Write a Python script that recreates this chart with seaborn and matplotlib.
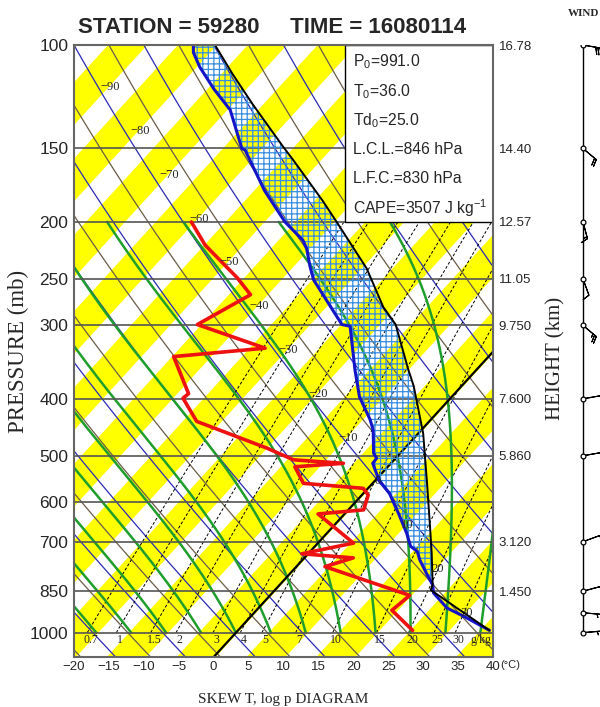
import numpy as np
import pandas as pd
import matplotlib
matplotlib.use('Agg')
import matplotlib.pyplot as plt
import seaborn as sns
from matplotlib.patches import Rectangle

# sounding values (pressure hPa, temperature C)
temp_p = [991, 938, 908, 856, 829, 797, 752, 727, 713, 677, 626, 610, 579, 549,
          515, 505, 495, 452, 434, 397, 357, 301, 299, 251, 238, 222, 215, 200,
          177, 151, 150, 129, 119, 109, 103, 100]
temp_t = [36.0, 30.5, 27.0, 23.1, 21.9, 19.8, 16.8, 15.3, 13.7, 11.4, 7.6, 6.3,
          3.7, 0.4, -2.6, -2.7, -3.8, -6.9, -8.7, -13.2, -17.4, -23.8, -25.2,
          -35.1, -37.4, -40.2, -41.8, -46.8, -53.8, -61.9, -62.6, -69.3, -74.3,
          -79.3, -82.1, -83.1]

dew_p = [991, 916, 864, 772, 746, 734, 704, 628, 618, 583, 568, 557, 522, 515,
         508, 485, 437, 399, 392, 339, 328, 299, 266, 249, 219, 200]
dew_t = [25.0, 19.4, 20.0, 4.1, 7.0, -0.9, 5.1, -3.8, 2.2, 0.9, -0.7, -9.9,
         -13.3, -6.8, -14.4, -19.8, -33.3, -38.3, -38.1, -45.1, -33.1, -45.9,
         -42.2, -46.3, -55.2, -60.2]

parcel_p = [991, 846, 829, 732, 660, 557, 458, 381, 355, 299, 279, 240, 200,
            184, 157, 149, 126, 112, 100]
parcel_t = [36.0, 22.3, 21.9, 17.6, 13.9, 7.8, 0.7, -6.8, -10.0, -17.5, -21.6,
            -29.0, -39.4, -44.2, -53.7, -56.9, -66.9, -73.7, -80.0]
lfc_p = 829

press_ticks = [100, 150, 200, 250, 300, 400, 500, 600, 700, 850, 1000]
height_p = [100, 150, 200, 250, 300, 400, 500, 700, 850]
height_km = ['16.78', '14.40', '12.57', '11.05', '9.750', '7.600', '5.860', '3.120', '1.450']
temp_ticks = list(range(-20, 45, 5))
iso_labels = list(range(-90, 40, 10))
mix_ratios = [0.7, 1, 1.5, 2, 3, 4, 5, 7, 10, 15, 20, 25, 30]
mix_labels = ['0.7', '1', '1.5', '2', '3', '4', '5', '7', '10', '15', '20', '25', '30']
moist_t0 = list(range(-20, 45, 5))

wind_p = [100, 150, 200, 250, 300, 400, 500, 700, 850, 925, 1000]
wind_dir = [100, 130, 165, 160, 130, 80, 80, 70, 75, 95, 85]
wind_kt = [30, 20, 15, 10, 25, 10, 10, 10, 10, 5, 5]

info_lines = [r'P$_\mathregular{0}$=991.0', r'T$_\mathregular{0}$=36.0',
              r'Td$_\mathregular{0}$=25.0', 'L.C.L.=846 hPa', 'L.F.C.=830 hPa',
              r'CAPE=3507 J kg$^\mathregular{-1}$']

P_BOT, P_TOP = 1100, 100
SKEW = 77.0


def skew_x(t, p):
    return np.asarray(t, float) + SKEW * np.log10(P_BOT / np.asarray(p, float))


def lapse(tk, p):
    es = 6.112 * np.exp(17.67 * (tk - 273.15) / (tk - 29.65))
    rs = 0.622 * es / (p - es)
    return (287.04 * tk + 2.501e6 * rs) / (p * (1005.7 + 2.501e6 ** 2 * rs * 0.622 / (287.04 * tk ** 2)))


def moist_adiabat(t0, p):
    t = np.empty(len(p))
    t[0] = t0 + 273.15
    for i in range(1, len(p)):
        dp = p[i] - p[i - 1]
        k1 = lapse(t[i - 1], p[i - 1])
        k2 = lapse(t[i - 1] + 0.5 * dp * k1, p[i - 1] + 0.5 * dp)
        t[i] = t[i - 1] + dp * k2
    return t - 273.15


sns.set_theme(style='white')
plt.rcParams['font.family'] = ['Liberation Sans', 'DejaVu Sans']
plt.rcParams['hatch.linewidth'] = 0.9

fig = plt.figure(figsize=(6, 7.07), dpi=100)
ax = fig.add_axes([74 / 600, 50 / 707, 419 / 600, 612 / 707])
ax.set_yscale('log')
ax.set_ylim(P_BOT, P_TOP)
ax.set_xlim(-20, 40)

# yellow isotherm bands
top_shift = SKEW * np.log10(P_BOT / P_TOP)
for t1 in range(-105, 40, 10):
    xs = [t1 - 0.3 + top_shift, t1 + 5.3 + top_shift, t1 + 5.3, t1 - 0.3]
    ax.fill(xs, [P_TOP, P_TOP, P_BOT, P_BOT], color='#ffff00', lw=0, zorder=0)

# blue / brown sloping lines
pg = np.geomspace(P_TOP, P_BOT, 80)
u = np.log10(pg / 100)
for c in range(-90, 45, 5):
    col = '#2b2bb5' if c % 10 == 0 else '#6a5d48'
    ax.plot(c + 47.2 * u + 15.5 * u ** 2, pg, color=col, lw=0.9, zorder=1)

# mixing ratio lines
pm = np.geomspace(1000, 200, 60)
for w, lab in zip(mix_ratios, mix_labels):
    e = w * pm / (622 + w)
    le = np.log(e / 6.112)
    td = 243.5 * le / (17.67 - le)
    ax.plot(skew_x(td, pm), pm, color='black', lw=0.7, ls=(0, (3, 2)), zorder=2)
    ax.text(skew_x(td[0], 1000) + 0.5, 1004, lab, ha='center', va='top',
            fontsize=8.5, family='Liberation Serif', zorder=6)
ax.text(38.3, 1004, 'g/kg', ha='center', va='top', fontsize=8.5,
        family='Liberation Serif', zorder=6)

# moist adiabats
pw = np.linspace(1000, 200, 401)
for t0 in moist_t0:
    ax.plot(skew_x(moist_adiabat(t0, pw), pw), pw, color='#1f9e2c', lw=1.8, zorder=2)

# isobars
for p in press_ticks[1:]:
    ax.axhline(p, color='#555555', lw=1.2, zorder=3)

# 0 C isotherm
ax.plot(skew_x([0, 0], [P_BOT, P_TOP]), [P_BOT, P_TOP], color='black', lw=1.6, zorder=3)

# isotherm labels
for t, p in zip(iso_labels, np.geomspace(118, 925, len(iso_labels))):
    ax.text(skew_x(t, p) + 0.5, p, f'{t}'.replace('-', '\u2212'), ha='center', va='center',
            fontsize=9, family='Liberation Serif', zorder=6)

# CAPE area
pp = np.array(parcel_p)
tp = np.array(parcel_t)
ep = np.array(temp_p)
et = np.array(temp_t)
mp = pp <= lfc_p
me = ep <= lfc_p
hx = np.concatenate([skew_x(tp[mp], pp[mp]), skew_x(et[me], ep[me])[::-1]])
hy = np.concatenate([pp[mp], ep[me][::-1]])
ax.fill(hx, hy, facecolor='none', edgecolor='#3a8ee0', hatch='+++', lw=0, zorder=4)

# profiles
prof = [(temp_t, temp_p, '#1414c8', 2.2), (dew_t, dew_p, '#ee1111', 2.6),
        (parcel_t, parcel_p, 'black', 1.4)]
for t, p, col, lw in prof:
    df = pd.DataFrame({'x': skew_x(t, p), 'p': p})
    sns.lineplot(data=df, x='x', y='p', sort=False, estimator=None, color=col,
                 lw=lw, ax=ax, zorder=5)

# info box
ax.add_patch(Rectangle((271 / 419, 435 / 612), 148 / 419, 177 / 612, transform=ax.transAxes,
                       facecolor='white', edgecolor='black', lw=1.0, zorder=7))
for i, s in enumerate(info_lines):
    ax.text(279 / 419, (612 - 17 - i * 29.2) / 612, s, transform=ax.transAxes,
            ha='left', va='center', fontsize=11.3, zorder=8)

ax.set_xlabel('')
ax.set_ylabel('')
ax.set_xticks(temp_ticks)
ax.set_xticklabels([f'{t}'.replace('-', '\u2212') for t in temp_ticks], fontsize=9.5)
ax.set_yticks(press_ticks)
ax.set_yticklabels([str(p) for p in press_ticks], fontsize=12.5)
ax.minorticks_off()
ax.tick_params(axis='both', length=0)
ax.tick_params(axis='y', pad=4)
ax.tick_params(axis='x', pad=3)
for sp in ax.spines.values():
    sp.set_color('#666666')
    sp.set_linewidth(1.5)
    sp.set_zorder(9)

tw = ax.twinx()
tw.set_yscale('log')
tw.set_ylim(P_BOT, P_TOP)
tw.set_yticks(height_p)
tw.set_yticklabels(height_km, fontsize=9.5)
tw.minorticks_off()
tw.tick_params(axis='y', length=0, pad=4)
for sp in tw.spines.values():
    sp.set_visible(False)

fig.text(500 / 600, 1 - 665 / 707, '(\u00b0C)', fontsize=8, va='center', ha='left')
fig.text(272 / 600, 1 - 33 / 707, 'STATION = 59280     TIME = 16080114',
         ha='center', va='baseline', fontsize=16, weight='bold')
fig.text(283 / 600, 1 - 703 / 707, 'SKEW T, log p DIAGRAM', ha='center', va='baseline',
         fontsize=11, family='Liberation Serif')
fig.text(18 / 600, 1 - 351 / 707, 'PRESSURE (mb)', rotation=90, ha='center', va='center',
         fontsize=16.5, family='Liberation Serif')
fig.text(556 / 600, 1 - 358 / 707, 'HEIGHT (km)', rotation=90, ha='center', va='center',
         fontsize=15, family='Liberation Serif')
fig.text(568 / 600, 1 - 14 / 707, 'WIND', ha='left', va='center', fontsize=8,
         weight='bold', family='Liberation Serif')

# wind column
axw = fig.add_axes([560 / 600, 50 / 707, 60 / 600, 612 / 707])
axw.set_yscale('log')
axw.set_ylim(P_BOT, P_TOP)
axw.set_xlim(0, 1)
axw.axis('off')
x0 = 23 / 60
axw.plot([x0, x0], [1000, 100], color='black', lw=1.0)
wd = np.radians(wind_dir)
ws = np.array(wind_kt, float)
axw.barbs(np.full(len(wind_p), x0), wind_p, -ws * np.sin(wd), -ws * np.cos(wd),
          length=5, lw=0.8, color='black')
axw.scatter(np.full(len(wind_p), x0), wind_p, s=12, facecolor='white', edgecolor='black',
            lw=0.9, zorder=5)

fig.savefig('out.png', dpi=100)
